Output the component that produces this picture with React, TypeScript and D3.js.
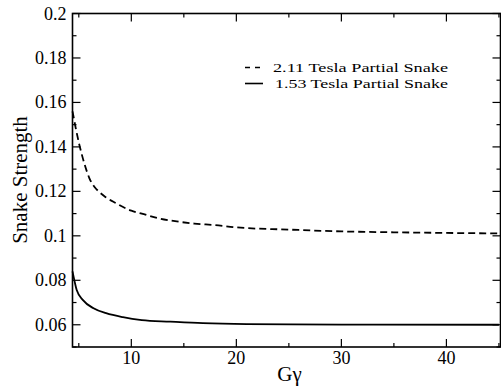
import React from "react";
import * as d3 from "d3";

const gg211 = [4.4, 5, 5.5, 6, 6.5, 7, 7.5, 8.5, 10, 11, 12.5, 14, 16, 18, 20, 25, 30, 35, 40, 45];
const val211 = [0.156, 0.142, 0.133, 0.126, 0.122, 0.1195, 0.1176, 0.1148, 0.1113, 0.11, 0.108, 0.1067, 0.1055, 0.1048, 0.1038, 0.1028, 0.102, 0.1016, 0.1013, 0.1011];
const gg153 = [4.4, 4.6, 4.8, 5.4, 6.4, 7.6, 9.2, 11, 13.7, 16.8, 21, 30, 45];
const val153 = [0.084, 0.0795, 0.0756, 0.0711, 0.0674, 0.0652, 0.0634, 0.0621, 0.0614, 0.0607, 0.0603, 0.0601, 0.06];
const xMajor = [10, 20, 30, 40];
const xMinor = [5, 15, 25, 35, 45];
const yMajor = [0.06, 0.08, 0.1, 0.12, 0.14, 0.16, 0.18, 0.2];
const yMinor = [0.05, 0.07, 0.09, 0.11, 0.13, 0.15, 0.17, 0.19];
const yLabels = ["0.06", "0.08", "0.1", "0.12", "0.14", "0.16", "0.18", "0.2"];
const legendLabels = ["2.11 Tesla Partial Snake", "1.53 Tesla Partial Snake"];

export default function App() {
  const L = 72.5, R = 500.5, T = 13.5, B = 347;
  const x = d3.scaleLinear().domain([4.4, 45.15]).range([L, R]);
  const y = d3.scaleLinear().domain([0.05, 0.2]).range([B, T]);
  const line = d3.line<[number, number]>().x(d => x(d[0])).y(d => y(d[1])).curve(d3.curveMonotoneX);
  const d1 = line(gg211.map((g, i) => [g, val211[i]]))!;
  const d2 = line(gg153.map((g, i) => [g, val153[i]]))!;
  const font = "Liberation Serif";
  return (
    <svg width={501} height={388} style={{ position: "absolute", left: 0, top: 0, background: "#fff" }}>
      <rect x={0} y={0} width={501} height={388} fill="#fff" />
      <rect x={L} y={T} width={R - L} height={B - T} fill="none" stroke="#000" strokeWidth={1.6} />
      {xMajor.map(v => (
        <g key={"xm" + v}>
          <line x1={x(v)} x2={x(v)} y1={B} y2={B - 8} stroke="#000" strokeWidth={1.2} />
          <line x1={x(v)} x2={x(v)} y1={T} y2={T + 8} stroke="#000" strokeWidth={1.2} />
          <text x={x(v)} y={B + 17} fontSize={18} textAnchor="middle" fontFamily={font}>{v}</text>
        </g>
      ))}
      {xMinor.map(v => (
        <g key={"xn" + v}>
          <line x1={x(v)} x2={x(v)} y1={B} y2={B - 4} stroke="#000" strokeWidth={1.2} />
          <line x1={x(v)} x2={x(v)} y1={T} y2={T + 4} stroke="#000" strokeWidth={1.2} />
        </g>
      ))}
      {yMajor.map((v, i) => (
        <g key={"ym" + v}>
          <line x1={L} x2={L + 8} y1={y(v)} y2={y(v)} stroke="#000" strokeWidth={1.2} />
          <line x1={R} x2={R - 8} y1={y(v)} y2={y(v)} stroke="#000" strokeWidth={1.2} />
          <text x={L - 6} y={y(v) + 6} fontSize={18} textAnchor="end" fontFamily={font}>{yLabels[i]}</text>
        </g>
      ))}
      {yMinor.map(v => (
        <g key={"yn" + v}>
          <line x1={L} x2={L + 4} y1={y(v)} y2={y(v)} stroke="#000" strokeWidth={1.2} />
          <line x1={R} x2={R - 4} y1={y(v)} y2={y(v)} stroke="#000" strokeWidth={1.2} />
        </g>
      ))}
      <path d={d1} fill="none" stroke="#000" strokeWidth={1.8} strokeDasharray="7,4" />
      <path d={d2} fill="none" stroke="#000" strokeWidth={1.8} />
      <line x1={245} x2={261} y1={67.5} y2={67.5} stroke="#000" strokeWidth={1.6} strokeDasharray="5,5" />
      <text x={273} y={72} fontSize={13.5} fontFamily={font} textLength={175} lengthAdjust="spacingAndGlyphs">{legendLabels[0]}</text>
      <line x1={245} x2={263} y1={83.5} y2={83.5} stroke="#000" strokeWidth={1.6} />
      <text x={275} y={88} fontSize={13.5} fontFamily={font} textLength={173} lengthAdjust="spacingAndGlyphs">{legendLabels[1]}</text>
      <text x={289.5} y={381} fontSize={21} textAnchor="middle" fontFamily={font}>Gγ</text>
      <text transform={`translate(27,180) rotate(-90)`} fontSize={21} textAnchor="middle" fontFamily={font}>Snake Strength</text>
    </svg>
  );
}
